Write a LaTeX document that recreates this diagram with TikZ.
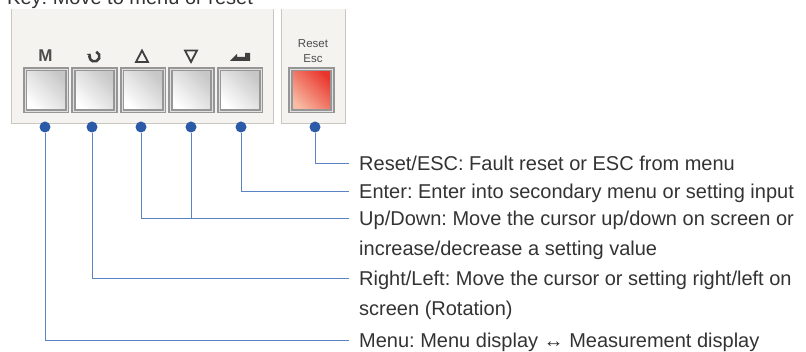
\documentclass[tikz,border=0pt]{standalone}
\usepackage{fontspec}
\setmainfont{Liberation Sans}
\frenchspacing
\usetikzlibrary{arrows.meta,positioning,calc}

\definecolor{panelfill}{HTML}{F4F3EF}
\definecolor{paneledge}{HTML}{C9C7C0}
\definecolor{keyblue}{HTML}{2B5BA8}
\definecolor{wireblue}{HTML}{5A82C4}
\definecolor{txtgray}{HTML}{333333}
\definecolor{btnedge}{HTML}{969696}
\definecolor{rstlo}{HTML}{F7BCA4}
\definecolor{rsthi}{HTML}{E9342B}

\begin{document}
\begin{tikzpicture}[
  x=1pt, y=-1pt,
  >=Stealth,
  panel/.style={fill=panelfill},
  edge/.style={draw=paneledge, line width=1pt},
  btn/.style={
    rectangle, draw=btnedge, line width=2pt, minimum size=42pt, inner sep=0pt,
    top color=black!22, bottom color=white, shading angle=-45,
    double=black!12, double distance=0.6pt
  },
  rstbtn/.style={btn, top color=rsthi, bottom color=rstlo, shading angle=-45},
  dot/.style={circle, fill=keyblue, inner sep=0pt, minimum size=11pt},
  wire/.style={draw=wireblue, line width=1pt},
  lbl/.style={
    anchor=base west, inner sep=0pt, align=left, text=txtgray,
    font=\fontsize{20}{30}\selectfont
  },
  icon/.style={draw=black!75, line width=1.8pt}
]
\useasboundingbox (0,0) rectangle (806,352);

% Title (cut at the top)
\node[lbl] (title) at (7,4.5) {Key: Move to menu or reset};

% Panels
\path[panel] (11,9) rectangle (273,124);
\path[panel] (281,9) rectangle (345,124);
\draw[edge] (11,9) -- (11,124) -- (273,124) -- (273,9);
\draw[edge] (281,9) -- (281,124) -- (345,124) -- (345,9);

% Keys
\node[btn]    (bMenu)  at (46,90)    {};
\node[btn]    (bRot)   at (94.5,90)  {};
\node[btn]    (bUp)    at (143,90)   {};
\node[btn]    (bDown)  at (191.5,90) {};
\node[btn]    (bEnter) at (240,90)   {};
\node[rstbtn] (bReset) at (311.5,90) {};

% Key symbols
\node[font=\fontsize{17}{17}\selectfont\bfseries, text=black!70] (iMenu) at (45.5,56) {M};
\draw[icon, line width=2.6pt, -{Triangle[length=2.5pt,width=5.5pt]}] ([shift={(-70:5)}]94.5,56.5) arc (-70:215:5);
\draw[icon] (136,62) -- (142,50.5) -- (148,62) -- cycle;
\draw[icon] (185,50.5) -- (197,50.5) -- (191,62) -- cycle;
\fill[black!75] (230,61) -- (237,54) -- (237,57) -- (245,57) -- (245,53) -- (250,53) -- (250,61) -- cycle;
\node[font=\fontsize{11.5}{15}\selectfont, text=black!70, align=center] (kReset) at (313,51) {Reset\\Esc};

% Descriptions
\node[lbl] (tReset)  at (359,171) {Reset/ESC: Fault reset or ESC from menu};
\node[lbl] (tEnter)  at (359,199) {Enter: Enter into secondary menu or setting input};
\node[lbl] (tUpDown) at (359,256) {Up/Down: Move the cursor up/down on screen or\\increase/decrease a setting value};
\node[lbl] (tRot)    at (359,316) {Right/Left: Move the cursor or setting right/left on\\screen (Rotation)};
\node[lbl] (tMenu)   at (359,348) {Menu: Menu display ↔ Measurement display};

% Wire ends
\coordinate (eReset)  at ([xshift=-10pt,yshift=7pt]tReset.base west);
\coordinate (eEnter)  at ([xshift=-10pt,yshift=7pt]tEnter.base west);
\coordinate (eUpDown) at ([xshift=-10pt,yshift=37pt]tUpDown.base west);
\coordinate (eRot)    at ([xshift=-10pt,yshift=37pt]tRot.base west);
\coordinate (eMenu)   at ([xshift=-10pt,yshift=7pt]tMenu.base west);

% Dots
\node[dot] (dMenu)  at (45,127)  {};
\node[dot] (dRot)   at (92,127)  {};
\node[dot] (dUp)    at (141,127) {};
\node[dot] (dDown)  at (191,127) {};
\node[dot] (dEnter) at (241,127) {};
\node[dot] (dReset) at (315,127) {};

% Leader lines
\draw[wire] (dReset) |- (eReset);
\draw[wire] (dEnter) |- (eEnter);
\draw[wire] (dUp) |- (eUpDown);
\draw[wire] (dDown) -- (dDown |- eUpDown);
\draw[wire] (dRot) |- (eRot);
\draw[wire] (dMenu) |- (eMenu);

\end{tikzpicture}
\end{document}
